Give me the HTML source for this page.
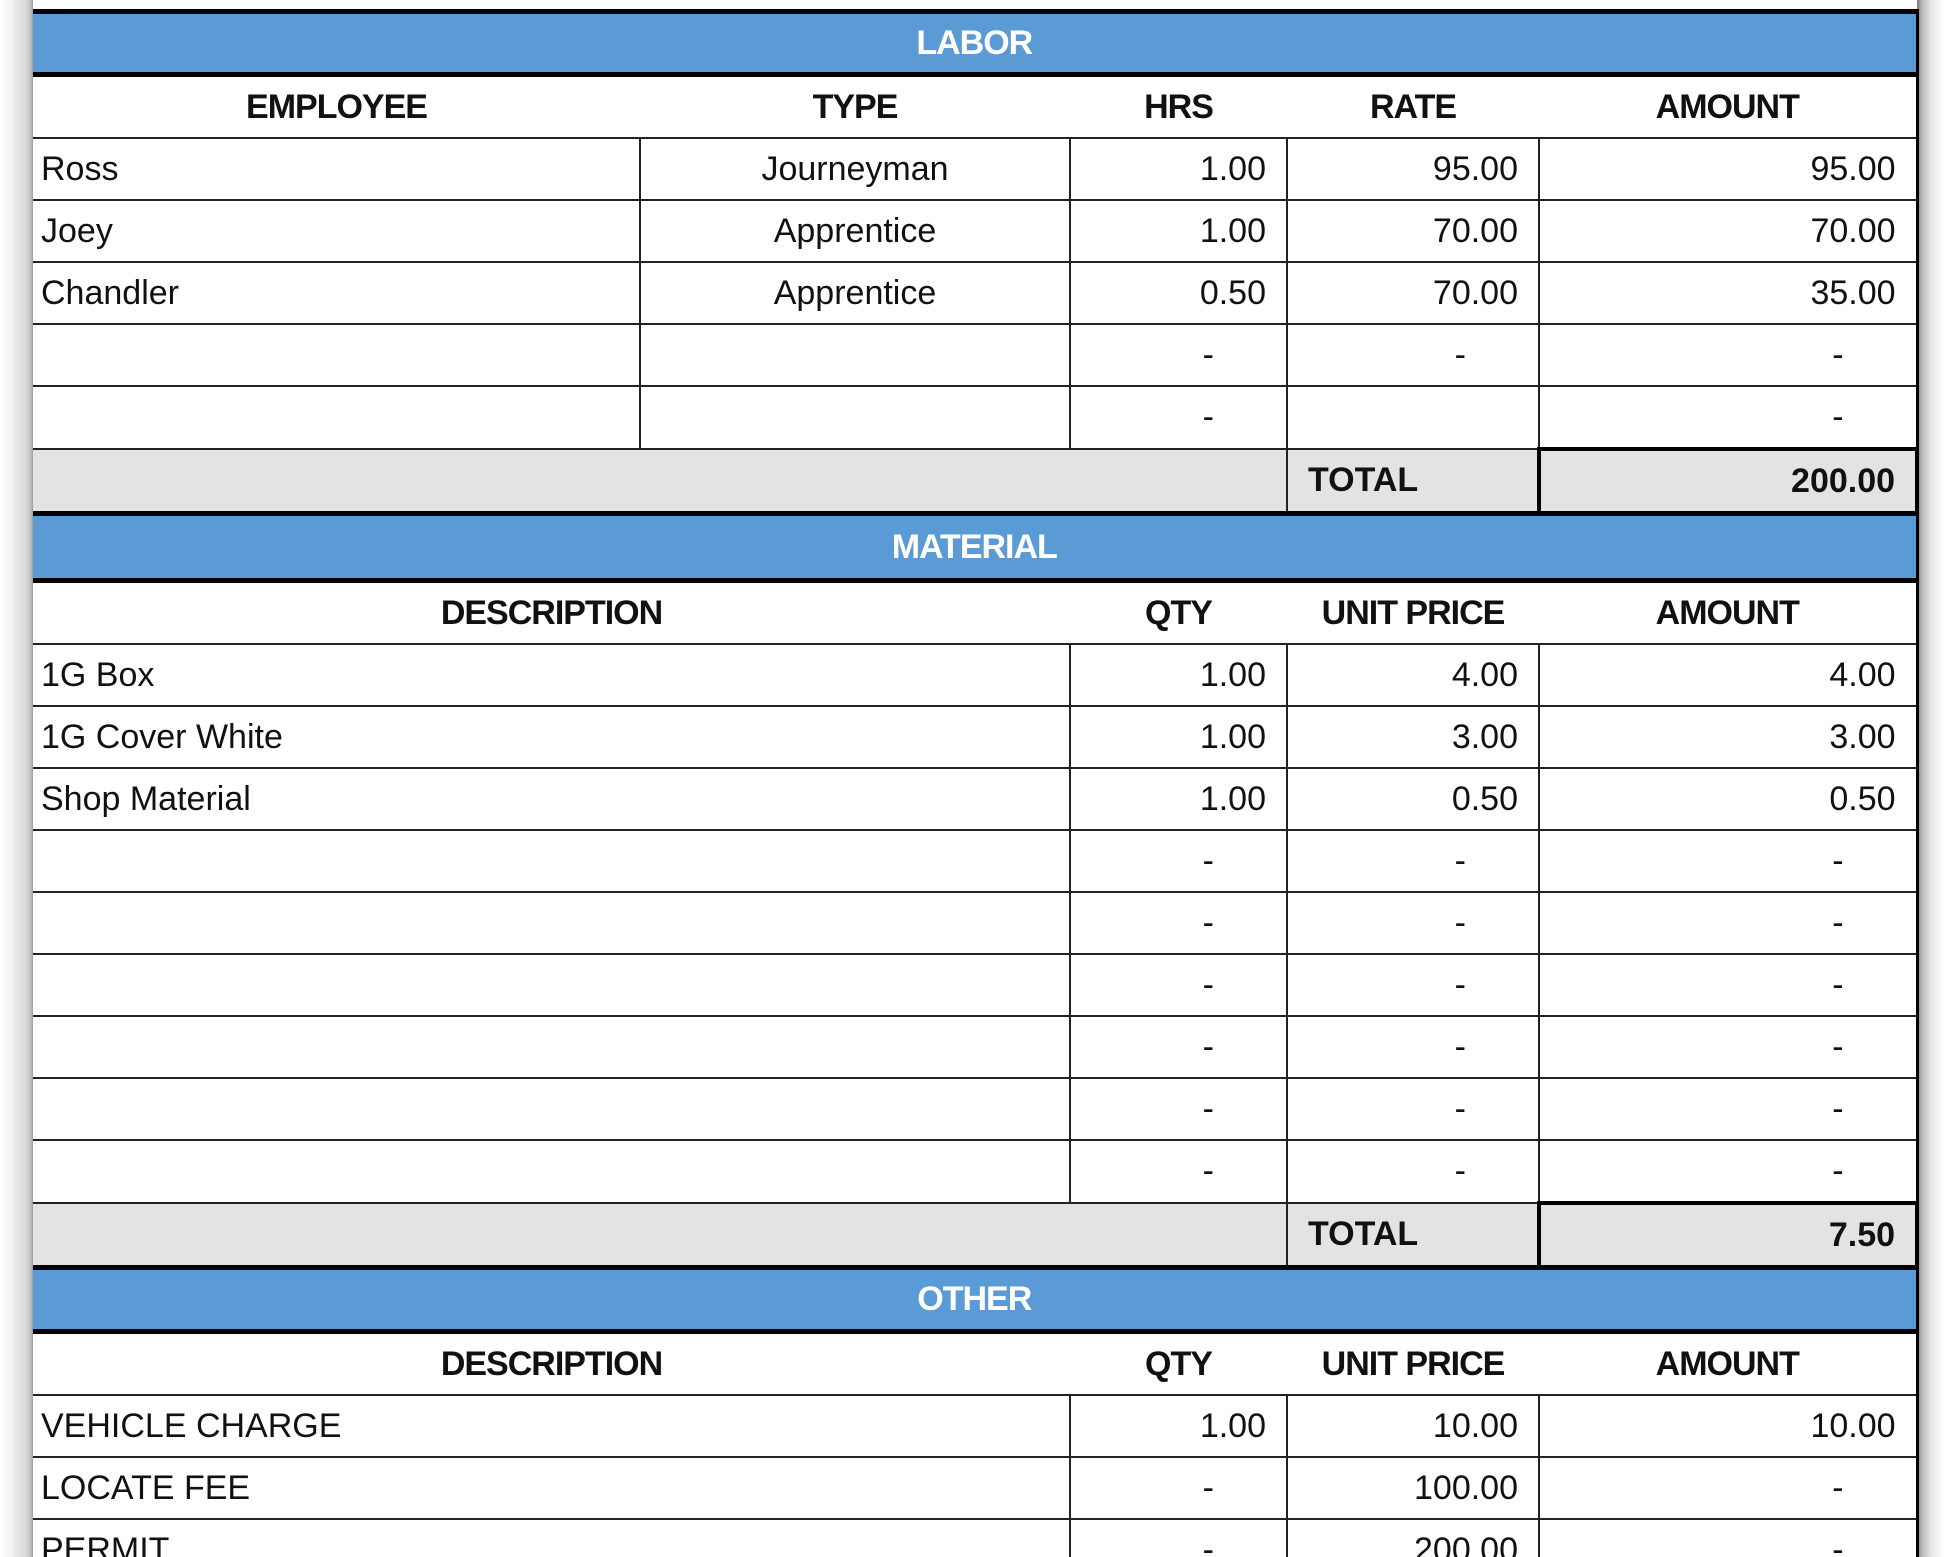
<!DOCTYPE html>
<html><head><meta charset="utf-8"><style>
html,body{margin:0;padding:0;background:#fff;width:1946px;height:1557px;overflow:hidden;position:relative}
.shadowL{position:absolute;left:0;top:0;width:33px;height:1557px;background:linear-gradient(to right,#fff 0,#f4f4f4 10px,#d8d8d8 26px,#bdbdbd 31px,#999 33px)}
.shadowR{position:absolute;left:1917px;top:0;width:29px;height:1557px;background:linear-gradient(to right,#777 0,#bbb 5px,#e6e6e6 14px,#fff 27px)}
table{position:absolute;left:33px;top:9px;width:1884px;border-collapse:collapse;table-layout:fixed;font-family:"Liberation Sans",sans-serif;font-size:34px;color:#111}
td{padding:0;height:60px;border-bottom:2px solid #222;white-space:nowrap;overflow:hidden;vertical-align:middle}
.bar td{background:#5b9bd5;color:#fff;font-weight:bold;text-align:center;border-top:5px solid #000;border-bottom:5px solid #000;border-right:3px solid #000;height:62px;letter-spacing:-1px}
.bar.first td{height:58px}
.bar.other td{height:59px}
.hd td{font-weight:bold;text-align:center;letter-spacing:-1px}
.l{text-align:left;padding-left:8px}
.r{text-align:right;padding-right:20px}
.d{text-align:right;padding-right:72px}
.v{border-right:2px solid #222}
.tot td{background:#e3e3e3;font-weight:bold;height:60px}
.tb{border:4px solid #000 !important}
.rb{border-right:3px solid #000}
</style></head><body>
<div class="shadowL"></div><div class="shadowR"></div>
<table>
<colgroup><col style="width:607px"><col style="width:430px"><col style="width:217px"><col style="width:252px"><col style="width:378px"></colgroup>
<tr class="bar first"><td colspan="5">LABOR</td></tr>
<tr class="hd"><td>EMPLOYEE</td><td>TYPE</td><td>HRS</td><td>RATE</td><td class="rb">AMOUNT</td></tr>
<tr><td class="l v">Ross</td><td class="v" style="text-align:center">Journeyman</td><td class="r v">1.00</td><td class="r v">95.00</td><td class="r rb">95.00</td></tr>
<tr><td class="l v">Joey</td><td class="v" style="text-align:center">Apprentice</td><td class="r v">1.00</td><td class="r v">70.00</td><td class="r rb">70.00</td></tr>
<tr><td class="l v">Chandler</td><td class="v" style="text-align:center">Apprentice</td><td class="r v">0.50</td><td class="r v">70.00</td><td class="r rb">35.00</td></tr>
<tr><td class="v"></td><td class="v"></td><td class="d v">-</td><td class="d v">-</td><td class="d rb">-</td></tr>
<tr><td class="v"></td><td class="v"></td><td class="d v">-</td><td class="v"></td><td class="d rb">-</td></tr>
<tr class="tot"><td colspan="3" class="v"></td><td class="l v" style="padding-left:20px">TOTAL</td><td class="r tb">200.00</td></tr>
<tr class="bar"><td colspan="5">MATERIAL</td></tr>
<tr class="hd"><td colspan="2">DESCRIPTION</td><td>QTY</td><td>UNIT PRICE</td><td class="rb">AMOUNT</td></tr>
<tr><td colspan="2" class="l v">1G Box</td><td class="r v">1.00</td><td class="r v">4.00</td><td class="r rb">4.00</td></tr>
<tr><td colspan="2" class="l v">1G Cover White</td><td class="r v">1.00</td><td class="r v">3.00</td><td class="r rb">3.00</td></tr>
<tr><td colspan="2" class="l v">Shop Material</td><td class="r v">1.00</td><td class="r v">0.50</td><td class="r rb">0.50</td></tr>
<tr><td colspan="2" class="v"></td><td class="d v">-</td><td class="d v">-</td><td class="d rb">-</td></tr>
<tr><td colspan="2" class="v"></td><td class="d v">-</td><td class="d v">-</td><td class="d rb">-</td></tr>
<tr><td colspan="2" class="v"></td><td class="d v">-</td><td class="d v">-</td><td class="d rb">-</td></tr>
<tr><td colspan="2" class="v"></td><td class="d v">-</td><td class="d v">-</td><td class="d rb">-</td></tr>
<tr><td colspan="2" class="v"></td><td class="d v">-</td><td class="d v">-</td><td class="d rb">-</td></tr>
<tr><td colspan="2" class="v"></td><td class="d v">-</td><td class="d v">-</td><td class="d rb">-</td></tr>
<tr class="tot"><td colspan="3" class="v"></td><td class="l v" style="padding-left:20px">TOTAL</td><td class="r tb">7.50</td></tr>
<tr class="bar other"><td colspan="5">OTHER</td></tr>
<tr class="hd"><td colspan="2">DESCRIPTION</td><td>QTY</td><td>UNIT PRICE</td><td class="rb">AMOUNT</td></tr>
<tr><td colspan="2" class="l v">VEHICLE CHARGE</td><td class="r v">1.00</td><td class="r v">10.00</td><td class="r rb">10.00</td></tr>
<tr><td colspan="2" class="l v">LOCATE FEE</td><td class="d v">-</td><td class="r v">100.00</td><td class="d rb">-</td></tr>
<tr><td colspan="2" class="l v">PERMIT</td><td class="d v">-</td><td class="r v">200.00</td><td class="d rb">-</td></tr>
</table>
</body></html>
